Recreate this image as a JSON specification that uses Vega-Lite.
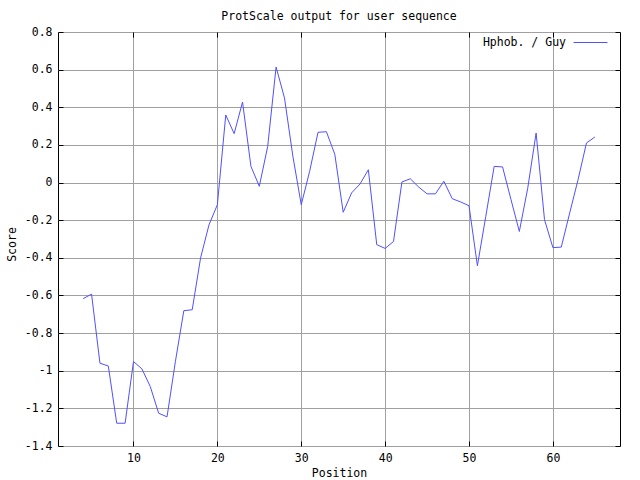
{
  "$schema": "https://vega.github.io/schema/vega-lite/v6.json",
  "width": 562,
  "height": 414,
  "autosize": {"type": "none"},
  "padding": {"left": 58, "top": 32, "right": 20, "bottom": 34},
  "background": "white",
  "title": {
    "text": "ProtScale output for user sequence",
    "font": "DejaVu Sans Mono",
    "fontSize": 11.5,
    "fontWeight": "normal",
    "color": "black",
    "anchor": "middle",
    "baseline": "alphabetic",
    "offset": -6,
    "frame": "group"
  },
  "config": {
    "view": {"stroke": "black", "strokeWidth": 1},
    "axis": {
      "labelFont": "DejaVu Sans Mono",
      "labelFontSize": 11.5,
      "labelColor": "black",
      "titleFont": "DejaVu Sans Mono",
      "titleFontSize": 11.5,
      "titleFontWeight": "normal",
      "titleColor": "black",
      "domain": false,
      "tickColor": "black",
      "tickSize": -5,
      "tickWidth": 1,
      "gridColor": "#a0a0a0",
      "gridOpacity": 1,
      "gridWidth": 1
    },
    "legend": {
      "labelFont": "DejaVu Sans Mono",
      "labelFontSize": 11.5,
      "labelColor": "black"
    }
  },
  "data": {
    "values": [
      {"pos": 4, "score": -0.617},
      {"pos": 5, "score": -0.593},
      {"pos": 6, "score": -0.96},
      {"pos": 7, "score": -0.975},
      {"pos": 8, "score": -1.279},
      {"pos": 9, "score": -1.279},
      {"pos": 10, "score": -0.951},
      {"pos": 11, "score": -0.99},
      {"pos": 12, "score": -1.084},
      {"pos": 13, "score": -1.226},
      {"pos": 14, "score": -1.245},
      {"pos": 15, "score": -0.95},
      {"pos": 16, "score": -0.681},
      {"pos": 17, "score": -0.676},
      {"pos": 18, "score": -0.4},
      {"pos": 19, "score": -0.225},
      {"pos": 20, "score": -0.118},
      {"pos": 21, "score": 0.359},
      {"pos": 22, "score": 0.26},
      {"pos": 23, "score": 0.428},
      {"pos": 24, "score": 0.086},
      {"pos": 25, "score": -0.02},
      {"pos": 26, "score": 0.192},
      {"pos": 27, "score": 0.614},
      {"pos": 28, "score": 0.45},
      {"pos": 29, "score": 0.14},
      {"pos": 30, "score": -0.118},
      {"pos": 31, "score": 0.06},
      {"pos": 32, "score": 0.267},
      {"pos": 33, "score": 0.27},
      {"pos": 34, "score": 0.15},
      {"pos": 35, "score": -0.158},
      {"pos": 36, "score": -0.055},
      {"pos": 37, "score": -0.008},
      {"pos": 38, "score": 0.068},
      {"pos": 39, "score": -0.33},
      {"pos": 40, "score": -0.35},
      {"pos": 41, "score": -0.313},
      {"pos": 42, "score": 0.003},
      {"pos": 43, "score": 0.02},
      {"pos": 44, "score": -0.024},
      {"pos": 45, "score": -0.06},
      {"pos": 46, "score": -0.06},
      {"pos": 47, "score": 0.007},
      {"pos": 48, "score": -0.086},
      {"pos": 49, "score": -0.103},
      {"pos": 50, "score": -0.123},
      {"pos": 51, "score": -0.442},
      {"pos": 52, "score": -0.18},
      {"pos": 53, "score": 0.086},
      {"pos": 54, "score": 0.083},
      {"pos": 55, "score": -0.09},
      {"pos": 56, "score": -0.26},
      {"pos": 57, "score": -0.03},
      {"pos": 58, "score": 0.263},
      {"pos": 59, "score": -0.197},
      {"pos": 60, "score": -0.346},
      {"pos": 61, "score": -0.343},
      {"pos": 62, "score": -0.162},
      {"pos": 63, "score": 0.015},
      {"pos": 64, "score": 0.21},
      {"pos": 65, "score": 0.242}
    ]
  },
  "layer": [
    {
      "mark": {"type": "line", "strokeWidth": 1, "interpolate": "linear"},
      "encoding": {
        "x": {
          "field": "pos",
          "type": "quantitative",
          "scale": {"domain": [1, 68], "nice": false, "zero": false},
          "axis": {
            "orient": "bottom",
            "values": [10, 20, 30, 40, 50, 60],
            "format": "d",
            "labelPadding": 11,
            "title": "Position",
            "titleX": 281,
            "titleY": 27,
            "titleBaseline": "middle",
            "titleAlign": "center",
            "grid": true
          }
        },
        "y": {
          "field": "score",
          "type": "quantitative",
          "scale": {"domain": [-1.4, 0.8], "nice": false, "zero": false},
          "axis": {
            "orient": "left",
            "values": [-1.4, -1.2, -1, -0.8, -0.6, -0.4, -0.2, 0, 0.2, 0.4, 0.6, 0.8],
            "labelExpr": "replace(format(datum.value, '.1~f'), '\u2212', '-')",
            "labelPadding": 11,
            "title": "Score",
            "titleX": -46,
            "titleY": 212,
            "titleAngle": -90,
            "titleBaseline": "middle",
            "titleAlign": "center",
            "grid": true
          }
        },
        "color": {
          "datum": "Hphob. / Guy",
          "type": "nominal",
          "scale": {"range": ["#5050ff"]},
          "legend": {
            "title": null,
            "orient": "none",
            "legendX": 515,
            "legendY": -7,
            "padding": 0,
            "symbolType": "stroke",
            "symbolSize": 1156,
            "symbolStrokeWidth": 1,
            "labelAlign": "right",
            "labelOffset": -42
          }
        }
      }
    },
    {
      "mark": {"type": "line", "opacity": 0},
      "encoding": {
        "x": {
          "field": "pos",
          "type": "quantitative",
          "axis": {
            "orient": "top",
            "values": [10, 20, 30, 40, 50, 60],
            "labels": false,
            "grid": false,
            "title": null
          }
        },
        "y": {
          "field": "score",
          "type": "quantitative",
          "axis": {
            "orient": "right",
            "values": [-1.4, -1.2, -1, -0.8, -0.6, -0.4, -0.2, 0, 0.2, 0.4, 0.6, 0.8],
            "labels": false,
            "grid": false,
            "title": null
          }
        }
      }
    }
  ],
  "resolve": {"axis": {"x": "independent", "y": "independent"}}
}
